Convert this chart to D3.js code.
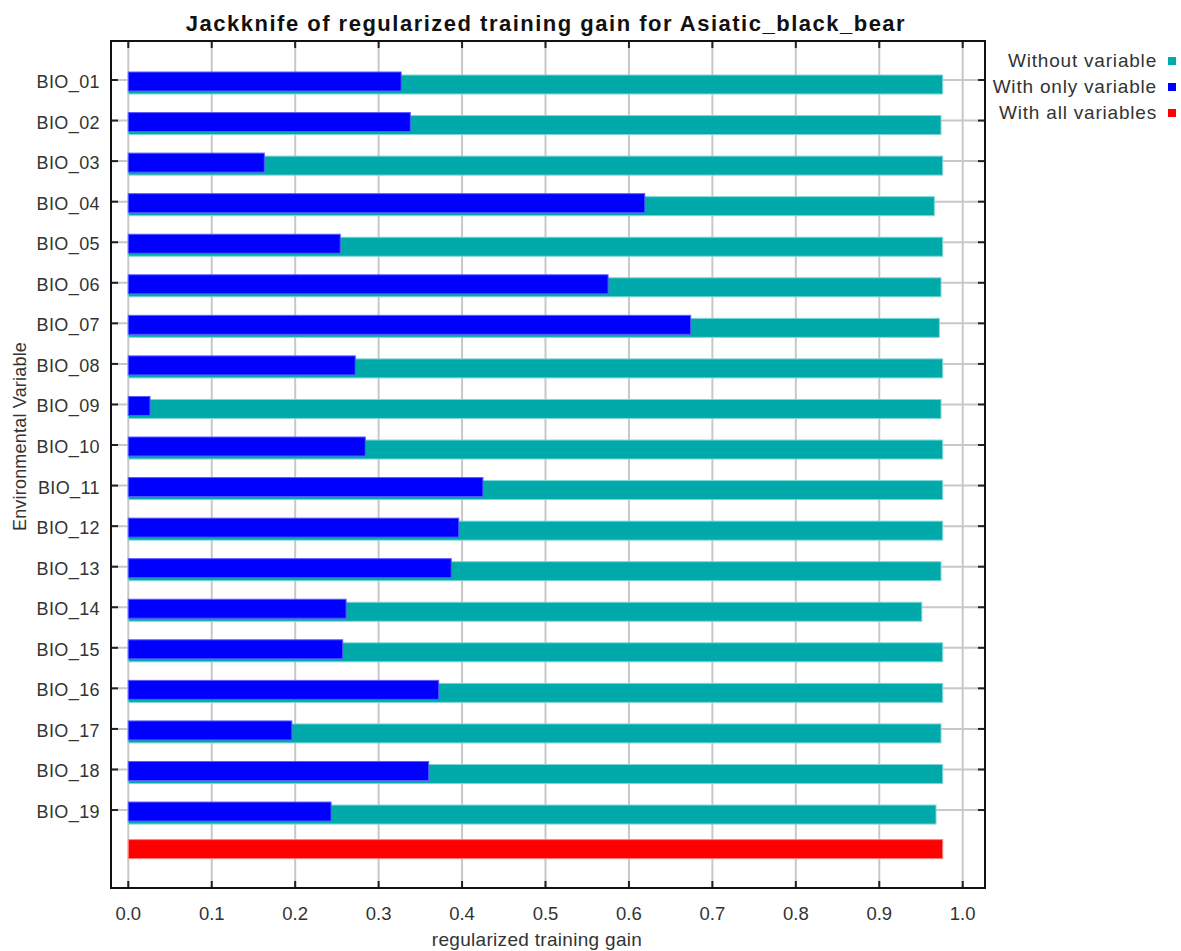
<!DOCTYPE html>
<html><head><meta charset="utf-8">
<script src="https://cdn.jsdelivr.net/npm/d3@7"></script>
<style>
body{margin:0;background:#fff;}
svg{display:block;font-family:"Liberation Sans",Arial,sans-serif;}
</style></head>
<body><svg id="c" width="1181" height="951"></svg>
<script>
const variables = ["BIO_01","BIO_02","BIO_03","BIO_04","BIO_05","BIO_06","BIO_07","BIO_08","BIO_09","BIO_10","BIO_11","BIO_12","BIO_13","BIO_14","BIO_15","BIO_16","BIO_17","BIO_18","BIO_19"];
const withoutVariable = [0.976,0.974,0.976,0.966,0.976,0.974,0.972,0.976,0.974,0.976,0.976,0.976,0.974,0.951,0.976,0.976,0.974,0.976,0.968];
const withOnlyVariable = [0.327,0.338,0.163,0.619,0.254,0.575,0.674,0.272,0.026,0.284,0.425,0.396,0.387,0.261,0.257,0.372,0.196,0.360,0.243];
const withAllVariables = 0.976;
const xTicks = [0,0.1,0.2,0.3,0.4,0.5,0.6,0.7,0.8,0.9,1.0];

const svg = d3.select("#c");
const L=111, R=985, T=41, B=888;
const x = d3.scaleLinear().domain([0,1]).range([128.3,962.7]);
const rows = variables.concat(["__all__"]);
const y = d3.scalePoint().domain(rows).range([80,850.6]);
const barH = 19;
const grid = "#c8c8c8";

// grid
svg.append("g").selectAll("line").data(xTicks).join("line")
  .attr("x1",d=>x(d)).attr("x2",d=>x(d)).attr("y1",T).attr("y2",B)
  .attr("stroke",grid).attr("stroke-width",2);
svg.append("g").selectAll("line").data(variables).join("line")
  .attr("x1",L).attr("x2",R).attr("y1",d=>y(d)).attr("y2",d=>y(d))
  .attr("stroke",grid).attr("stroke-width",2);

// bars
svg.append("g").selectAll("rect").data(variables).join("rect")
  .attr("x",x(0)).attr("y",d=>y(d)-5)
  .attr("width",(d,i)=>x(withoutVariable[i])-x(0)).attr("height",barH)
  .attr("fill","#00aaaa").attr("stroke","#7fd5d5").attr("stroke-width",1);
svg.append("g").selectAll("rect").data(variables).join("rect")
  .attr("x",x(0)).attr("y",d=>y(d)-8)
  .attr("width",(d,i)=>x(withOnlyVariable[i])-x(0)).attr("height",barH)
  .attr("fill","#0000ff").attr("stroke","#5a5aff").attr("stroke-width",1);
svg.append("rect").attr("x",x(0)).attr("y",y("__all__")-11)
  .attr("width",x(withAllVariables)-x(0)).attr("height",barH)
  .attr("fill","#ff0000").attr("stroke","#ff7f7f").attr("stroke-width",1);

// ticks
const tk = svg.append("g").attr("stroke","#222").attr("stroke-width",2);
xTicks.forEach(d=>{
  tk.append("line").attr("x1",x(d)).attr("x2",x(d)).attr("y1",B).attr("y2",B-7);
  tk.append("line").attr("x1",x(d)).attr("x2",x(d)).attr("y1",T).attr("y2",T+7);
});
variables.forEach(d=>{
  tk.append("line").attr("x1",L).attr("x2",L+7).attr("y1",y(d)).attr("y2",y(d));
  tk.append("line").attr("x1",R).attr("x2",R-7).attr("y1",y(d)).attr("y2",y(d));
});

// frame
svg.append("rect").attr("x",L).attr("y",T).attr("width",R-L).attr("height",B-T)
  .attr("fill","none").attr("stroke","#111").attr("stroke-width",2);

// labels
svg.append("g").selectAll("text").data(xTicks).join("text")
  .attr("x",d=>x(d)).attr("y",920).attr("text-anchor","middle")
  .attr("font-size",18.5).attr("fill","#333").text(d3.format(".1f"));
svg.append("g").selectAll("text").data(variables).join("text")
  .attr("x",100).attr("y",d=>y(d)+8).attr("text-anchor","end")
  .attr("font-size",18).attr("letter-spacing",0.4).attr("fill","#333").text(d=>d);

svg.append("text").attr("x",546).attr("y",31).attr("text-anchor","middle")
  .attr("font-size",22).attr("letter-spacing",1.5).attr("font-weight","bold").attr("fill","#111")
  .text("Jackknife of regularized training gain for Asiatic_black_bear");
svg.append("text").attr("x",537).attr("y",946).attr("text-anchor","middle")
  .attr("font-size",19).attr("letter-spacing",0.3).attr("fill","#333").text("regularized training gain");
svg.append("text").attr("transform","translate(26,436.5) rotate(-90)").attr("text-anchor","middle")
  .attr("font-size",18).attr("letter-spacing",0.2).attr("fill","#333").text("Environmental Variable");

// legend
const legend = [["Without variable","#00aaaa"],["With only variable","#0000ff"],["With all variables","#ff0000"]];
legend.forEach((l,i)=>{
  svg.append("text").attr("x",1157).attr("y",67+i*26).attr("text-anchor","end")
    .attr("font-size",19).attr("letter-spacing",0.8).attr("fill","#333").text(l[0]);
  svg.append("rect").attr("x",1168).attr("y",57+i*26).attr("width",8).attr("height",8).attr("fill",l[1]);
});
</script></body></html>
